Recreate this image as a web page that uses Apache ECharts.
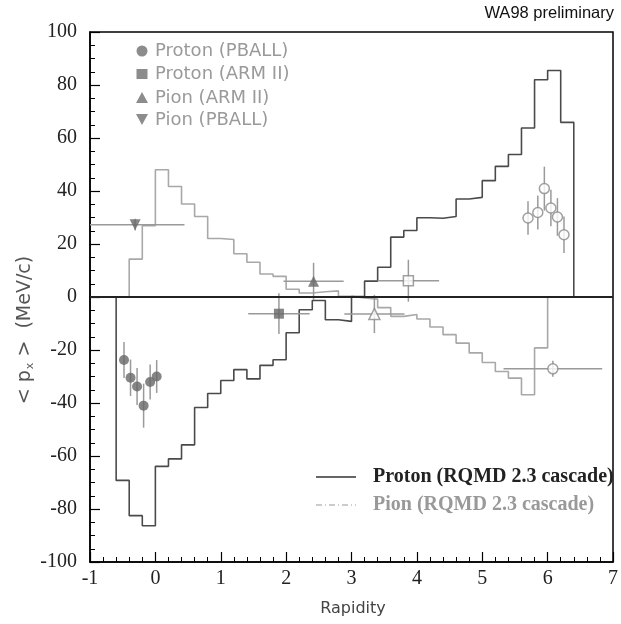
<!DOCTYPE html>
<html>
<head>
<meta charset="utf-8">
<script src="https://cdn.jsdelivr.net/npm/echarts@6/dist/echarts.min.js"></script>
<style>html,body{margin:0;padding:0;background:#fff}#c{width:621px;height:624px}</style>
</head>
<body>
<div id="c"></div>
<script>
// ---- Data ----
const xTicks = [-1, 0, 1, 2, 3, 4, 5, 6, 7];
const yTicks = [-100, -80, -60, -40, -20, 0, 20, 40, 60, 80, 100];

// RQMD 2.3 cascade histograms: bin edges and bin contents
const protonEdges = [-0.6,-0.4,-0.2,0.0,0.2,0.4,0.6,0.8,1.0,1.2,1.4,1.6,1.8,2.0,2.2,2.4,2.6,2.8,3.0,3.2,3.4,3.6,3.8,4.0,4.2,4.4,4.6,4.8,5.0,5.2,5.4,5.6,5.8,6.0,6.2,6.4];
const protonRQMD = [-69.2,-82.5,-86.3,-63.9,-61.1,-55.8,-41.7,-36.4,-31.5,-27.4,-30.9,-25.8,-23.7,-13.5,-4.8,-1.3,-8.6,-9.2,0.2,6.0,11.2,22.6,25.1,29.9,29.7,30.4,37.0,37.6,43.9,49.3,53.8,63.8,82.0,85.5,65.9];
const pionEdges = [-0.4,-0.2,0.0,0.2,0.4,0.6,0.8,1.0,1.2,1.4,1.6,1.8,2.0,2.2,2.4,2.6,2.8,3.0,3.2,3.4,3.6,3.8,4.0,4.2,4.4,4.6,4.8,5.0,5.2,5.4,5.6,5.8,6.0];
const pionRQMD = [14.3,26.9,48.0,41.7,35.1,30.4,22.1,21.7,16.3,13.1,8.7,7.8,2.9,1.5,2.0,2.3,0.3,-0.4,-0.8,-4.0,-7.3,-6.6,-8.3,-11.3,-14.2,-17.4,-21.1,-24.7,-28.1,-30.6,-36.9,-19.2];

// Proton (PBALL): measured (filled) and reflected (open)
const pballProtonX = [-0.48,-0.38,-0.28,-0.18,-0.08,0.02];
const pballProtonY = [-23.8,-30.5,-33.8,-41.0,-32.1,-30.0];
const pballProtonErr = [6.8,6.9,7.0,8.3,6.6,6.2];
const pballProtonReflX = [5.70,5.85,5.95,6.05,6.15,6.25];
const pballProtonReflY = [29.8,31.9,40.9,33.6,30.2,23.5];
const pballProtonReflErr = [6.3,6.4,8.3,6.9,7.1,6.9];

// Proton (ARM II)
const armProtonX = [1.89], armProtonY = [-6.3], armProtonXErr = [0.47], armProtonYErr = [7.7];
const armProtonReflX = [3.87], armProtonReflY = [6.15], armProtonReflXErr = [0.47], armProtonReflYErr = [7.9];
// Pion (ARM II)
const armPionX = [2.42], armPionY = [5.9], armPionXErr = [0.46], armPionYErr = [7.0];
const armPionReflX = [3.35], armPionReflY = [-6.4], armPionReflXErr = [0.46], armPionReflYErr = [7.2];
// Pion (PBALL)
const pballPionX = [-0.31], pballPionY = [27.3], pballPionXErr = [0.755], pballPionYErr = [2.2];
const pballPionReflX = [6.08], pballPionReflY = [-27.1], pballPionReflXErr = [0.755], pballPionReflYErr = [3.0];

// ---- Helpers ----
function histPoints(edges, vals) {
  const pts = [[edges[0], 0]];
  for (let i = 0; i < vals.length; i++) {
    pts.push([edges[i], vals[i]]);
    pts.push([edges[i + 1], vals[i]]);
  }
  pts.push([edges[edges.length - 1], 0]);
  return pts;
}
function pts(xs, ys) { return xs.map((x, i) => [x, ys[i]]); }
function errData(xs, ys, xe, ye) {
  return xs.map((x, i) => [x, ys[i], xe ? xe[i] : 0, ye[i]]);
}

const ERR_COLOR = '#9a9a9a';
const MARK_COLOR = '#666666';
const SERIF = 'Liberation Serif';
const SANS = 'DejaVu Sans';

function errorSeries(data) {
  return {
    type: 'custom', z: 3, silent: true,
    renderItem: function (params, api) {
      const x = api.value(0), y = api.value(1), xe = api.value(2), ye = api.value(3);
      const cs = params.coordSys;
      const children = [];
      const a = api.coord([x, y - ye]), b = api.coord([x, y + ye]);
      children.push({ type: 'line', shape: { x1: a[0], y1: a[1], x2: b[0], y2: b[1] }, style: { stroke: ERR_COLOR, lineWidth: 1.5 } });
      if (xe > 0) {
        const c = api.coord([x - xe, y]), d = api.coord([x + xe, y]);
        const x1 = Math.max(c[0], cs.x), x2 = Math.min(d[0], cs.x + cs.width);
        children.push({ type: 'line', shape: { x1: x1, y1: c[1], x2: x2, y2: d[1] }, style: { stroke: ERR_COLOR, lineWidth: 1.5 } });
      }
      return { type: 'group', children: children };
    },
    data: data
  };
}
function scatter(data, symbol, filled, rotate, size) {
  return {
    type: 'scatter', z: 4, silent: true, symbol: symbol, symbolSize: size || 10, symbolRotate: rotate || 0,
    itemStyle: filled ? { color: MARK_COLOR } : { color: '#ffffff', borderColor: '#8a8a8a', borderWidth: 1.5 },
    data: data
  };
}

const chart = echarts.init(document.getElementById('c'), null, { renderer: 'canvas' });

const option = {
  animation: false,
  backgroundColor: '#ffffff',
  grid: { left: 90, right: 4, top: 32, bottom: 62, show: true, borderColor: '#000', borderWidth: 1.5, backgroundColor: 'transparent' },
  xAxis: {
    type: 'value', min: xTicks[0], max: xTicks[xTicks.length - 1], interval: 1,
    axisLine: { show: true, onZero: false, lineStyle: { color: '#000', width: 1.5 } },
    axisTick: { show: true, inside: true, length: 10, lineStyle: { color: '#000', width: 1.2 } },
    minorTick: { show: true, splitNumber: 5, length: 5, lineStyle: { color: '#000', width: 1 } },
    splitLine: { show: false },
    axisLabel: { margin: 7, color: '#222', fontFamily: SERIF, fontSize: 20, formatter: v => String(v) }
  },
  yAxis: {
    type: 'value', min: yTicks[0], max: yTicks[yTicks.length - 1], interval: 20,
    axisLine: { show: true, onZero: false, lineStyle: { color: '#000', width: 1.5 } },
    axisTick: { show: true, inside: true, length: 10, lineStyle: { color: '#000', width: 1.2 } },
    minorTick: { show: true, splitNumber: 4, length: 5, lineStyle: { color: '#000', width: 1 } },
    splitLine: { show: false },
    axisLabel: { margin: 13, color: '#222', fontFamily: SERIF, fontSize: 20, formatter: v => String(v) }
  },
  series: [
    {
      type: 'line', name: 'Pion (RQMD 2.3 cascade)', z: 2, silent: true, symbol: 'none',
      lineStyle: { color: '#a8a8a8', width: 1.6 },
      data: histPoints(pionEdges, pionRQMD)
    },
    {
      type: 'line', name: 'Proton (RQMD 2.3 cascade)', z: 2, silent: true, symbol: 'none',
      lineStyle: { color: '#4a4a4a', width: 1.6 },
      data: histPoints(protonEdges, protonRQMD),
      markLine: { silent: true, symbol: 'none', label: { show: false }, lineStyle: { color: '#222', width: 1.8, type: 'solid' }, data: [{ yAxis: 0 }] }
    },
    errorSeries(errData(pballProtonX, pballProtonY, null, pballProtonErr)),
    errorSeries(errData(pballProtonReflX, pballProtonReflY, null, pballProtonReflErr)),
    errorSeries(errData(armProtonX, armProtonY, armProtonXErr, armProtonYErr)),
    errorSeries(errData(armProtonReflX, armProtonReflY, armProtonReflXErr, armProtonReflYErr)),
    errorSeries(errData(armPionX, armPionY, armPionXErr, armPionYErr)),
    errorSeries(errData(armPionReflX, armPionReflY, armPionReflXErr, armPionReflYErr)),
    errorSeries(errData(pballPionX, pballPionY, pballPionXErr, pballPionYErr)),
    errorSeries(errData(pballPionReflX, pballPionReflY, pballPionReflXErr, pballPionReflYErr)),
    scatter(pts(pballProtonX, pballProtonY), 'circle', true, 0, 10),
    scatter(pts(pballProtonReflX, pballProtonReflY), 'circle', false, 0, 10),
    scatter(pts(armProtonX, armProtonY), 'rect', true, 0, 10),
    scatter(pts(armProtonReflX, armProtonReflY), 'rect', false, 0, 10),
    scatter(pts(armPionX, armPionY), 'triangle', true, 0, 11),
    scatter(pts(armPionReflX, armPionReflY), 'triangle', false, 0, 11),
    scatter(pts(pballPionX, pballPionY), 'triangle', true, 180, 11),
    scatter(pts(pballPionReflX, pballPionReflY), 'circle', false, 0, 10)
  ],
  graphic: [
    { type: 'text', right: 7, top: 5, style: { text: 'WA98 preliminary', fontFamily: 'Liberation Sans', fontSize: 16.5, fill: '#111' } },
    // Y axis title
    { type: 'text', x: 25, y: 330, rotation: Math.PI / 2,
      style: { text: '{n|< p}{s|x}{n| >  (MeV/c)}', align: 'center', verticalAlign: 'middle',
        rich: { n: { fontFamily: SANS, fontSize: 19, fill: '#555' }, s: { fontFamily: SANS, fontSize: 11, fill: '#555', padding: [10, 0, 0, 1] } } } },
    // X axis title
    { type: 'text', x: 353, y: 609, style: { text: 'Rapidity', align: 'center', verticalAlign: 'middle', fontFamily: SANS, fontSize: 16, fill: '#444' } },
    // Top-left legend
    { type: 'circle', shape: { cx: 142, cy: 51, r: 5.5 }, style: { fill: '#8c8c8c' } },
    { type: 'text', x: 155, y: 51, style: { text: 'Proton (PBALL)', verticalAlign: 'middle', fontFamily: SANS, fontSize: 18, fill: '#9a9a9a' } },
    { type: 'rect', shape: { x: 136.5, y: 69, width: 11, height: 10 }, style: { fill: '#8c8c8c' } },
    { type: 'text', x: 155, y: 74, style: { text: 'Proton (ARM II)', verticalAlign: 'middle', fontFamily: SANS, fontSize: 18, fill: '#9a9a9a' } },
    { type: 'polygon', shape: { points: [[142, 92], [136, 103], [148, 103]] }, style: { fill: '#8c8c8c' } },
    { type: 'text', x: 155, y: 98, style: { text: 'Pion (ARM II)', verticalAlign: 'middle', fontFamily: SANS, fontSize: 18, fill: '#9a9a9a' } },
    { type: 'polygon', shape: { points: [[136, 114], [148, 114], [142, 125]] }, style: { fill: '#8c8c8c' } },
    { type: 'text', x: 155, y: 120, style: { text: 'Pion (PBALL)', verticalAlign: 'middle', fontFamily: SANS, fontSize: 18, fill: '#9a9a9a' } },
    // Bottom-right legend
    { type: 'line', shape: { x1: 316, y1: 477, x2: 356, y2: 477 }, style: { stroke: '#333', lineWidth: 1.3 } },
    { type: 'text', x: 373, y: 477, style: { text: 'Proton (RQMD 2.3 cascade)', verticalAlign: 'middle', fontFamily: SERIF, fontWeight: 'bold', fontSize: 20, fill: '#222' } },
    { type: 'line', shape: { x1: 316, y1: 505, x2: 356, y2: 505 }, style: { stroke: '#999', lineWidth: 1.1, lineDash: [6, 3, 1, 3] } },
    { type: 'text', x: 373, y: 505, style: { text: 'Pion (RQMD 2.3 cascade)', verticalAlign: 'middle', fontFamily: SERIF, fontWeight: 'bold', fontSize: 20, fill: '#999' } }
  ]
};
chart.setOption(option);
</script>
</body>
</html>
